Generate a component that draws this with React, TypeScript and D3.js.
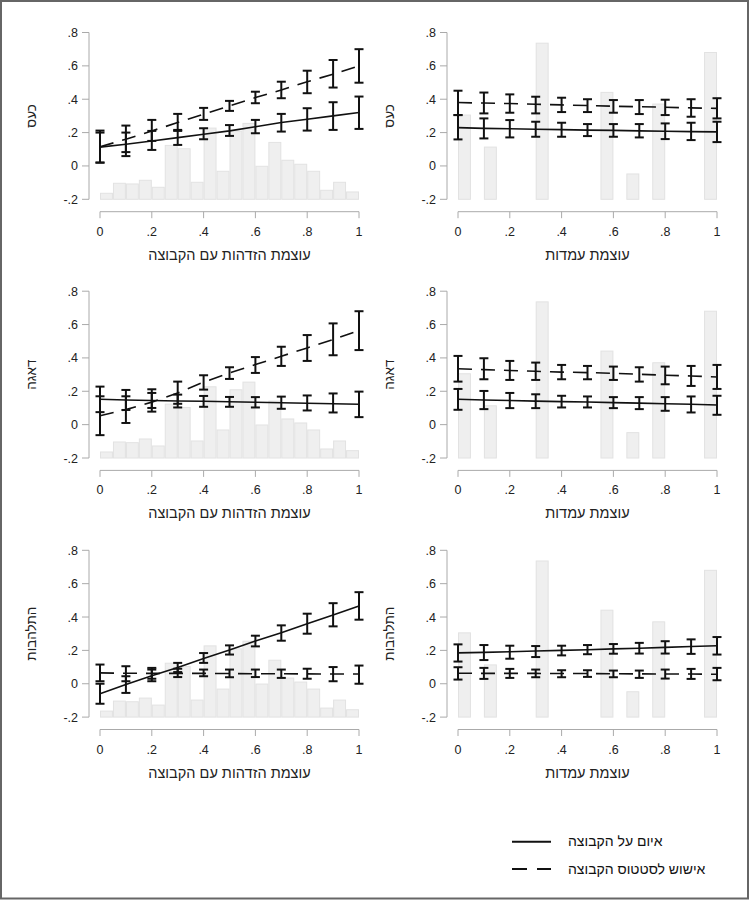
import { useEffect, useRef } from 'react'
import * as d3 from 'd3'

// points where the marginal effects were computed
const xs = [0, 0.1, 0.2, 0.3, 0.4, 0.5, 0.6, 0.7, 0.8, 0.9, 1]

// identification histogram (20 bins of 0.05), bar tops on the y scale
const idHistStarts = [0, 0.05, 0.1, 0.15, 0.2, 0.25, 0.3, 0.35, 0.4, 0.45, 0.5, 0.55, 0.6, 0.65, 0.7, 0.75, 0.8, 0.85, 0.9, 0.95]
const idHistTops = [-0.164, -0.104, -0.108, -0.086, -0.128, 0.123, 0.103, -0.098, 0.227, -0.032, 0.209, 0.255, -0.002, 0.141, 0.034, 0.01, -0.032, -0.146, -0.098, -0.156]

// attitude histogram (only non-empty bins)
const attHistStarts = [0, 0.1, 0.3, 0.55, 0.65, 0.75, 0.95]
const attHistTops = [0.305, 0.113, 0.736, 0.441, -0.048, 0.371, 0.68]

// כעס – identification
const angerIdThreat = [0.113, 0.13, 0.15, 0.17, 0.19, 0.21, 0.235, 0.26, 0.28, 0.3, 0.32]
const angerIdThreatLo = [0.02, 0.059, 0.096, 0.126, 0.16, 0.18, 0.196, 0.206, 0.212, 0.216, 0.222]
const angerIdThreatHi = [0.2, 0.2, 0.21, 0.216, 0.226, 0.245, 0.276, 0.312, 0.346, 0.382, 0.416]
const angerIdStatus = [0.115, 0.16, 0.21, 0.26, 0.31, 0.36, 0.41, 0.455, 0.505, 0.55, 0.6]
const angerIdStatusLo = [0.02, 0.083, 0.15, 0.21, 0.276, 0.33, 0.376, 0.406, 0.436, 0.47, 0.499]
const angerIdStatusHi = [0.212, 0.242, 0.276, 0.312, 0.348, 0.39, 0.445, 0.505, 0.571, 0.635, 0.7]

// כעס – attitudes
const angerAttThreat = [0.23, 0.225, 0.223, 0.22, 0.218, 0.215, 0.213, 0.21, 0.208, 0.206, 0.204]
const angerAttThreatLo = [0.159, 0.165, 0.171, 0.175, 0.175, 0.179, 0.175, 0.171, 0.161, 0.155, 0.143]
const angerAttThreatHi = [0.305, 0.285, 0.275, 0.265, 0.259, 0.251, 0.251, 0.251, 0.255, 0.259, 0.265]
const angerAttStatus = [0.38, 0.377, 0.374, 0.37, 0.366, 0.362, 0.358, 0.355, 0.352, 0.348, 0.345]
const angerAttStatusLo = [0.305, 0.315, 0.319, 0.315, 0.323, 0.323, 0.319, 0.311, 0.305, 0.295, 0.285]
const angerAttStatusHi = [0.451, 0.44, 0.429, 0.415, 0.409, 0.4, 0.395, 0.395, 0.397, 0.4, 0.406]

// דאגה – identification
const worryIdThreat = [0.152, 0.148, 0.145, 0.142, 0.14, 0.137, 0.134, 0.131, 0.128, 0.125, 0.122]
const worryIdThreatLo = [0.075, 0.088, 0.1, 0.103, 0.107, 0.107, 0.103, 0.095, 0.085, 0.073, 0.045]
const worryIdThreatHi = [0.228, 0.208, 0.19, 0.18, 0.172, 0.166, 0.165, 0.168, 0.175, 0.187, 0.198]
const worryIdStatus = [0.053, 0.09, 0.135, 0.19, 0.255, 0.31, 0.36, 0.41, 0.46, 0.51, 0.565]
const worryIdStatusLo = [-0.063, 0.01, 0.078, 0.125, 0.21, 0.274, 0.31, 0.352, 0.382, 0.416, 0.447]
const worryIdStatusHi = [0.17, 0.17, 0.212, 0.258, 0.296, 0.344, 0.405, 0.467, 0.537, 0.607, 0.68]

// דאגה – attitudes
const worryAttThreat = [0.152, 0.148, 0.145, 0.141, 0.138, 0.136, 0.132, 0.129, 0.125, 0.122, 0.118]
const worryAttThreatLo = [0.089, 0.093, 0.099, 0.099, 0.103, 0.103, 0.099, 0.093, 0.083, 0.073, 0.059]
const worryAttThreatHi = [0.214, 0.202, 0.19, 0.182, 0.173, 0.169, 0.165, 0.165, 0.165, 0.169, 0.173]
const worryAttStatus = [0.335, 0.33, 0.325, 0.32, 0.315, 0.312, 0.308, 0.302, 0.296, 0.292, 0.286]
const worryAttStatusLo = [0.258, 0.272, 0.268, 0.268, 0.272, 0.272, 0.268, 0.258, 0.242, 0.232, 0.214]
const worryAttStatusHi = [0.412, 0.398, 0.382, 0.372, 0.358, 0.352, 0.348, 0.344, 0.348, 0.352, 0.358]

// התלהבות – identification
const enthIdThreat = [-0.06, -0.005, 0.048, 0.098, 0.152, 0.202, 0.256, 0.305, 0.36, 0.412, 0.466]
const enthIdThreatLo = [-0.12, -0.055, 0.015, 0.07, 0.125, 0.175, 0.224, 0.258, 0.3, 0.344, 0.384]
const enthIdThreatHi = [0.0, 0.045, 0.085, 0.125, 0.184, 0.23, 0.288, 0.35, 0.42, 0.483, 0.549]
const enthIdStatus = [0.065, 0.063, 0.062, 0.062, 0.062, 0.061, 0.06, 0.06, 0.059, 0.058, 0.058]
const enthIdStatusLo = [0.015, 0.015, 0.03, 0.04, 0.045, 0.039, 0.04, 0.035, 0.03, 0.015, 0.0]
const enthIdStatusHi = [0.115, 0.105, 0.095, 0.09, 0.085, 0.085, 0.085, 0.085, 0.09, 0.1, 0.109]

// התלהבות – attitudes
const enthAttThreat = [0.185, 0.188, 0.192, 0.196, 0.2, 0.204, 0.209, 0.213, 0.218, 0.223, 0.228]
const enthAttThreatLo = [0.133, 0.142, 0.15, 0.16, 0.17, 0.177, 0.18, 0.181, 0.181, 0.179, 0.175]
const enthAttThreatHi = [0.236, 0.232, 0.228, 0.226, 0.228, 0.232, 0.238, 0.245, 0.255, 0.266, 0.28]
const enthAttStatus = [0.063, 0.062, 0.062, 0.062, 0.061, 0.061, 0.06, 0.059, 0.058, 0.058, 0.057]
const enthAttStatusLo = [0.025, 0.029, 0.035, 0.039, 0.039, 0.041, 0.039, 0.035, 0.031, 0.029, 0.021]
const enthAttStatusHi = [0.099, 0.095, 0.089, 0.085, 0.081, 0.081, 0.079, 0.079, 0.085, 0.089, 0.095]

const yTicks = [-0.2, 0, 0.2, 0.4, 0.6, 0.8]
const xTicks = [0, 0.2, 0.4, 0.6, 0.8, 1]
const fmt = (v: number) => {
  if (v === 0) return '0'
  if (v === 1) return '1'
  return (v < 0 ? '-' : '') + String(Math.abs(v)).replace(/^0/, '')
}

const xTitleId = 'עוצמת הזדהות עם הקבוצה'
const xTitleAtt = 'עוצמת עמדות'
const rowTitles = ['כעס', 'דאגה', 'התלהבות']
const legendLabels = ['איום על הקבוצה', 'אישוש לסטטוס הקבוצה']

type Series = { mid: number[]; lo: number[]; hi: number[] }
type Panel = {
  row: number
  col: number
  threat: Series
  status: Series
}

const panels: Panel[] = [
  { row: 0, col: 0, threat: { mid: angerIdThreat, lo: angerIdThreatLo, hi: angerIdThreatHi }, status: { mid: angerIdStatus, lo: angerIdStatusLo, hi: angerIdStatusHi } },
  { row: 0, col: 1, threat: { mid: angerAttThreat, lo: angerAttThreatLo, hi: angerAttThreatHi }, status: { mid: angerAttStatus, lo: angerAttStatusLo, hi: angerAttStatusHi } },
  { row: 1, col: 0, threat: { mid: worryIdThreat, lo: worryIdThreatLo, hi: worryIdThreatHi }, status: { mid: worryIdStatus, lo: worryIdStatusLo, hi: worryIdStatusHi } },
  { row: 1, col: 1, threat: { mid: worryAttThreat, lo: worryAttThreatLo, hi: worryAttThreatHi }, status: { mid: worryAttStatus, lo: worryAttStatusLo, hi: worryAttStatusHi } },
  { row: 2, col: 0, threat: { mid: enthIdThreat, lo: enthIdThreatLo, hi: enthIdThreatHi }, status: { mid: enthIdStatus, lo: enthIdStatusLo, hi: enthIdStatusHi } },
  { row: 2, col: 1, threat: { mid: enthAttThreat, lo: enthAttThreatLo, hi: enthAttThreatHi }, status: { mid: enthAttStatus, lo: enthAttStatusLo, hi: enthAttStatusHi } },
]

const W = 750
const H = 900
const FONT = '"Liberation Sans", Arial, sans-serif'

export default function App() {
  const svgRef = useRef<SVGSVGElement | null>(null)

  useEffect(() => {
    if (!svgRef.current) return
    const svg = d3.select(svgRef.current)
    svg.selectAll('*').remove()

    svg.append('rect').attr('width', W).attr('height', H).attr('fill', '#fff')

    const colLeft = [100, 458]
    const plotW = 259
    const rowTop = [32.5, 291.2, 550.3]
    const plotH = 166.8

    panels.forEach((p) => {
      const x = d3.scaleLinear().domain([0, 1]).range([colLeft[p.col], colLeft[p.col] + plotW])
      const y = d3.scaleLinear().domain([-0.2, 0.8]).range([rowTop[p.row] + plotH, rowTop[p.row]])
      const g = svg.append('g')

      // histogram in the background
      const starts = p.col === 0 ? idHistStarts : attHistStarts
      const tops = p.col === 0 ? idHistTops : attHistTops
      g.append('g')
        .selectAll('rect')
        .data(starts.map((s, i) => ({ s, t: tops[i] })))
        .join('rect')
        .attr('x', (d) => x(d.s) + 0.5)
        .attr('width', (d) => x(d.s + 0.05) - x(d.s) - 1)
        .attr('y', (d) => y(d.t))
        .attr('height', (d) => y(-0.2) - y(d.t))
        .attr('fill', '#efefef')
        .attr('stroke', '#e2e2e2')
        .attr('stroke-width', 1)

      // y axis
      const axisX = colLeft[p.col] - 11
      g.append('line')
        .attr('x1', axisX).attr('x2', axisX)
        .attr('y1', y(0.8)).attr('y2', y(-0.2))
        .attr('stroke', '#aaa').attr('stroke-width', 1)
      yTicks.forEach((t) => {
        g.append('line')
          .attr('x1', axisX - 7).attr('x2', axisX)
          .attr('y1', y(t)).attr('y2', y(t))
          .attr('stroke', '#aaa').attr('stroke-width', 1)
        g.append('text')
          .attr('x', axisX - 11).attr('y', y(t) + 4.5)
          .attr('text-anchor', 'end')
          .attr('font-family', FONT).attr('font-size', 12.5)
          .attr('fill', '#222')
          .text(fmt(t))
      })

      // x axis
      const axisY = y(-0.2) + 12.4
      g.append('line')
        .attr('x1', x(0)).attr('x2', x(1))
        .attr('y1', axisY).attr('y2', axisY)
        .attr('stroke', '#aaa').attr('stroke-width', 1)
      xTicks.forEach((t) => {
        g.append('line')
          .attr('x1', x(t)).attr('x2', x(t))
          .attr('y1', axisY).attr('y2', axisY + 6.5)
          .attr('stroke', '#aaa').attr('stroke-width', 1)
        g.append('text')
          .attr('x', x(t)).attr('y', axisY + 24)
          .attr('text-anchor', 'middle')
          .attr('font-family', FONT).attr('font-size', 12.5)
          .attr('fill', '#222')
          .text(fmt(t))
      })

      // axis titles
      g.append('text')
        .attr('x', (x(0) + x(1)) / 2).attr('y', axisY + 48)
        .attr('text-anchor', 'middle')
        .attr('font-family', FONT).attr('font-size', 14.5)
        .attr('fill', '#222')
        .text(p.col === 0 ? xTitleId : xTitleAtt)
      const ty = (y(0.8) + y(-0.2)) / 2
      const tx = colLeft[p.col] - 64
      g.append('text')
        .attr('transform', `translate(${tx},${ty}) rotate(-90)`)
        .attr('text-anchor', 'middle')
        .attr('font-family', FONT).attr('font-size', 13.5)
        .attr('fill', '#222')
        .text(rowTitles[p.row])

      // lines
      const line = d3.line<number>()
        .x((_, i) => x(xs[i]))
        .y((d) => y(d))
      g.append('path')
        .attr('d', line(p.threat.mid))
        .attr('fill', 'none').attr('stroke', '#111').attr('stroke-width', 1.6)
      g.append('path')
        .attr('d', line(p.status.mid))
        .attr('fill', 'none').attr('stroke', '#111').attr('stroke-width', 1.6)
        .attr('stroke-dasharray', '14 9')

      // confidence intervals
      ;[p.threat, p.status].forEach((s) => {
        xs.forEach((xv, i) => {
          const cx = x(xv)
          g.append('line')
            .attr('x1', cx).attr('x2', cx)
            .attr('y1', y(s.lo[i])).attr('y2', y(s.hi[i]))
            .attr('stroke', '#111').attr('stroke-width', 2)
          ;[s.lo[i], s.hi[i]].forEach((v) => {
            g.append('line')
              .attr('x1', cx - 4.5).attr('x2', cx + 4.5)
              .attr('y1', y(v)).attr('y2', y(v))
              .attr('stroke', '#111').attr('stroke-width', 2)
          })
        })
      })
    })

    // legend
    const leg = svg.append('g')
    const legY = [841.7, 869]
    legendLabels.forEach((lab, i) => {
      leg.append('line')
        .attr('x1', 512).attr('x2', 551)
        .attr('y1', legY[i]).attr('y2', legY[i])
        .attr('stroke', '#111').attr('stroke-width', 2)
        .attr('stroke-dasharray', i === 1 ? '15 10' : null)
      leg.append('text')
        .attr('x', 568).attr('y', legY[i] + 4.5)
        .attr('font-family', FONT).attr('font-size', 14)
        .attr('fill', '#111')
        .text(lab)
    })

    // outer frame
    svg.append('rect')
      .attr('x', 1).attr('y', 1)
      .attr('width', W - 3).attr('height', H - 2.5)
      .attr('fill', 'none')
      .attr('stroke', '#666').attr('stroke-width', 2)
  }, [])

  return (
    <div style={{ position: 'absolute', left: 0, top: 0 }}>
      <svg ref={svgRef} width={W} height={H} style={{ display: 'block' }} />
    </div>
  )
}
